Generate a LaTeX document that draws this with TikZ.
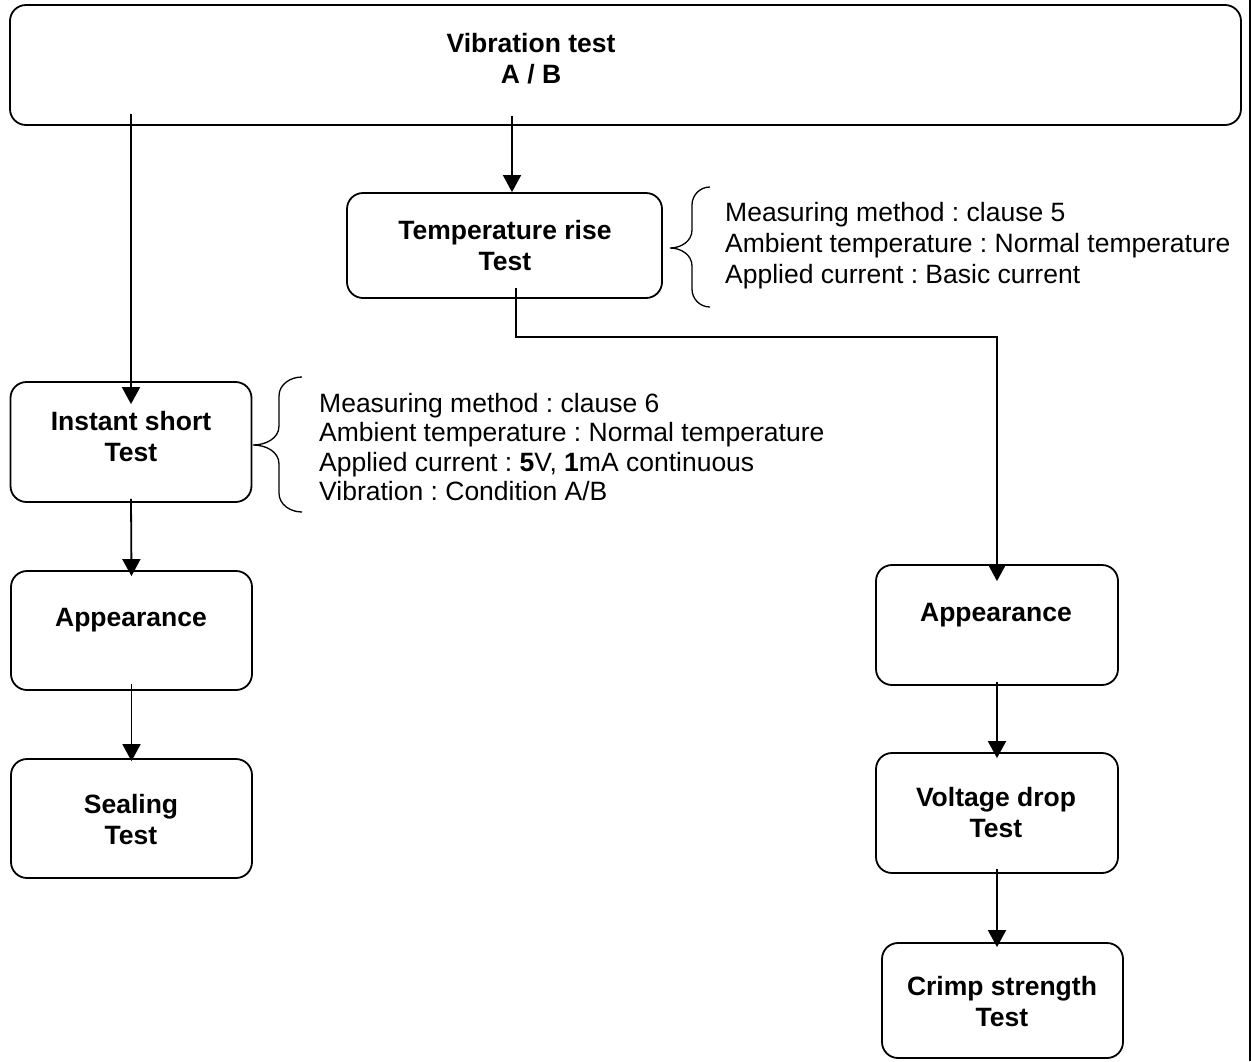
\documentclass[tikz,border=0pt]{standalone}
\usepackage{fontspec}
\setmainfont{Liberation Sans}
\usetikzlibrary{arrows.meta, calc}
\frenchspacing

\tikzset{
	stepbox/.style = {draw, line width=1.8pt, rounded corners=16pt, inner sep=0pt},
	boxtext/.style = {font=\fontsize{26.5}{31}\selectfont\bfseries, align=center, inner sep=0pt},
	notetext/.style = {font=\fontsize{26.5}{31}\selectfont, align=left, anchor=west, inner sep=0pt},
	flow/.style = {line width=1.8pt, -{Triangle[width=18pt,length=17pt]}},
	brace/.style = {line width=1.3pt}
}

\begin{document}
\begin{tikzpicture}[x=1pt, y=-1pt]
	\useasboundingbox (0,0) rectangle (1251,1061);
	
	% boxes
	\node[stepbox, minimum width=1231pt, minimum height=120pt] (vib) at (625.5,65) {};
	\node[boxtext] (vibtext) at (531,59) {Vibration test\\A / B};
	
	\node[stepbox, minimum width=315pt, minimum height=105pt] (temp) at (504.5,245.5) {};
	\node[boxtext] (temptext) at (505,246) {Temperature rise\\Test};
	
	\node[stepbox, minimum width=241pt, minimum height=120pt] (inst) at (131,442) {};
	\node[boxtext] (insttext) at (131,437) {Instant short\\Test};
	
	\node[stepbox, minimum width=241pt, minimum height=119pt] (appL) at (131.5,630.5) {};
	\node[boxtext] (appLtext) at (131,620) {Appearance};
	
	\node[stepbox, minimum width=241pt, minimum height=119pt] (seal) at (131.5,818.5) {};
	\node[boxtext] (sealtext) at (131,820) {Sealing\\Test};
	
	\node[stepbox, minimum width=242pt, minimum height=120pt] (appR) at (997,625) {};
	\node[boxtext] (appRtext) at (996,615) {Appearance};
	
	\node[stepbox, minimum width=242pt, minimum height=120pt] (volt) at (997,813) {};
	\node[boxtext] (volttext) at (996,813) {Voltage drop\\Test};
	
	\node[stepbox, minimum width=241pt, minimum height=115pt] (crimp) at (1002.5,1000.5) {};
	\node[boxtext] (crimptext) at (1002,1002) {Crimp strength\\Test};
	
	% notes
	\node[notetext] (tempnote) at (725,246) {Measuring method : clause 5\\Ambient temperature : Normal temperature\\Applied current : Basic current};
	\node[notetext, font=\fontsize{26.5}{29.5}\selectfont] (instnote) at (319,447) {Measuring method : clause 6\\Ambient temperature : Normal temperature\\Applied current : \textbf{5}V, \textbf{1}mA continuous\\Vibration : Condition A/B};
	
	\draw[brace] (710,187) to[out=180,in=90] (692,205) -- (692,230) to[out=-90,in=0] (670,248)
		to[out=0,in=90] (692,266) -- (692,289) to[out=-90,in=180] (710,307);
	\draw[brace] (302,377) to[out=180,in=90] (279,396) -- (279,426) to[out=-90,in=0] (253,445)
		to[out=0,in=90] (279,464) -- (279,493) to[out=-90,in=180] (302,512);
	
	% connectors
	\coordinate (bend) at (997,337);
	\draw[flow] ([yshift=12pt]vib.south -| inst.north) -- ([yshift=-23pt]inst.north);
	\draw[flow] ([xshift=7.5pt,yshift=10pt]vib.south -| temp.north) -- ([xshift=7.5pt]temp.north);
	\draw[flow] ([yshift=4pt]inst.south) -- ([yshift=-6pt]appL.north);
	\draw[flow] ([yshift=7pt]appL.south) -- ([yshift=-3pt]seal.north);
	\draw[flow] ([xshift=11.5pt,yshift=11pt]temp.south) |- (bend) -- ([yshift=-17pt]appR.north);
	\draw[flow] ([yshift=4pt]appR.south) -- ([yshift=-6pt]volt.north);
	\draw[flow] ([yshift=5pt]volt.south) -- ([yshift=-5pt]volt.south |- crimp.north);
	
	\draw[line width=1.8pt] (1250,0) -- (1250,1061);
\end{tikzpicture}
\end{document}
